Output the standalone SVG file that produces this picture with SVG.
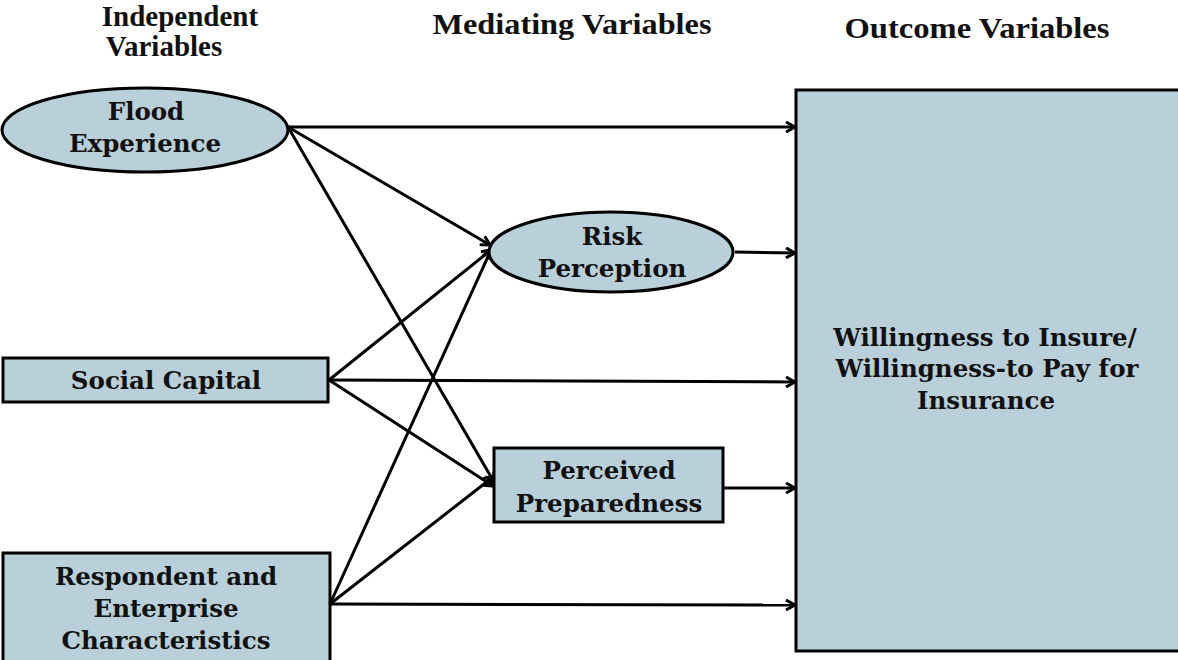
<svg xmlns="http://www.w3.org/2000/svg" width="1178" height="660" viewBox="0 0 1178 660">
<style>
.n{fill:#b9cfd9;stroke:#000;stroke-width:3}
.t{font-family:"DejaVu Serif","Liberation Serif",serif;font-weight:bold;font-size:24.5px;fill:#111;text-anchor:middle}
.h{font-family:"Liberation Serif",serif;font-weight:bold;font-size:29px;fill:#111;text-anchor:middle}
.c{stroke:#000;stroke-width:3;fill:none;marker-end:url(#a)}
</style>
<defs>
<marker id="a" markerWidth="12" markerHeight="12" refX="10" refY="6" orient="auto" markerUnits="userSpaceOnUse">
<path d="M1,1 L10,6 L1,11" fill="none" stroke="#000" stroke-width="3"/>
</marker>
</defs>
<g id="headers">
<text class="h" x="180" y="26">Independent</text>
<text class="h" x="164" y="56">Variables</text>
<text class="h" x="572" y="34" textLength="279" lengthAdjust="spacingAndGlyphs">Mediating Variables</text>
<text class="h" x="977" y="38" textLength="265" lengthAdjust="spacingAndGlyphs">Outcome Variables</text>
</g>
<g id="connectors">
<line class="c" x1="288" y1="127" x2="795" y2="127"/>
<line class="c" x1="288" y1="127" x2="490" y2="245"/>
<line class="c" x1="288" y1="127" x2="494" y2="482"/>
<line class="c" x1="329" y1="380" x2="491" y2="250"/>
<line class="c" x1="329" y1="380" x2="795" y2="382"/>
<line class="c" x1="329" y1="380" x2="493" y2="486"/>
<line class="c" x1="330" y1="604" x2="491" y2="250"/>
<line class="c" x1="330" y1="604" x2="493" y2="477"/>
<line class="c" x1="330" y1="604" x2="795" y2="605"/>
<line class="c" x1="735" y1="252" x2="795" y2="253"/>
<line class="c" x1="723" y1="488" x2="795" y2="488"/>
</g>
<g id="flood">
<ellipse class="n" cx="145" cy="130" rx="143" ry="42"/>
<text class="t" x="146" y="120">Flood</text>
<text class="t" x="145" y="152">Experience</text>
</g>
<g id="social">
<rect class="n" x="3" y="358" width="325" height="44"/>
<text class="t" x="166" y="389">Social Capital</text>
</g>
<g id="respondent">
<rect class="n" x="3" y="553" width="327" height="115"/>
<text class="t" x="166" y="585">Respondent and</text>
<text class="t" x="166" y="617">Enterprise</text>
<text class="t" x="166" y="649">Characteristics</text>
</g>
<g id="risk">
<ellipse class="n" cx="611" cy="252" rx="122" ry="40"/>
<text class="t" x="612" y="245">Risk</text>
<text class="t" x="612" y="277">Perception</text>
</g>
<g id="prepared">
<rect class="n" x="494" y="448" width="229" height="74"/>
<text class="t" x="609" y="479">Perceived</text>
<text class="t" x="609" y="512">Preparedness</text>
</g>
<g id="outcome">
<rect class="n" x="796" y="90" width="390" height="561"/>
<text class="t" x="985" y="346">Willingness to Insure/</text>
<text class="t" x="987" y="377">Willingness-to Pay for</text>
<text class="t" x="986" y="409">Insurance</text>
</g>
</svg>
